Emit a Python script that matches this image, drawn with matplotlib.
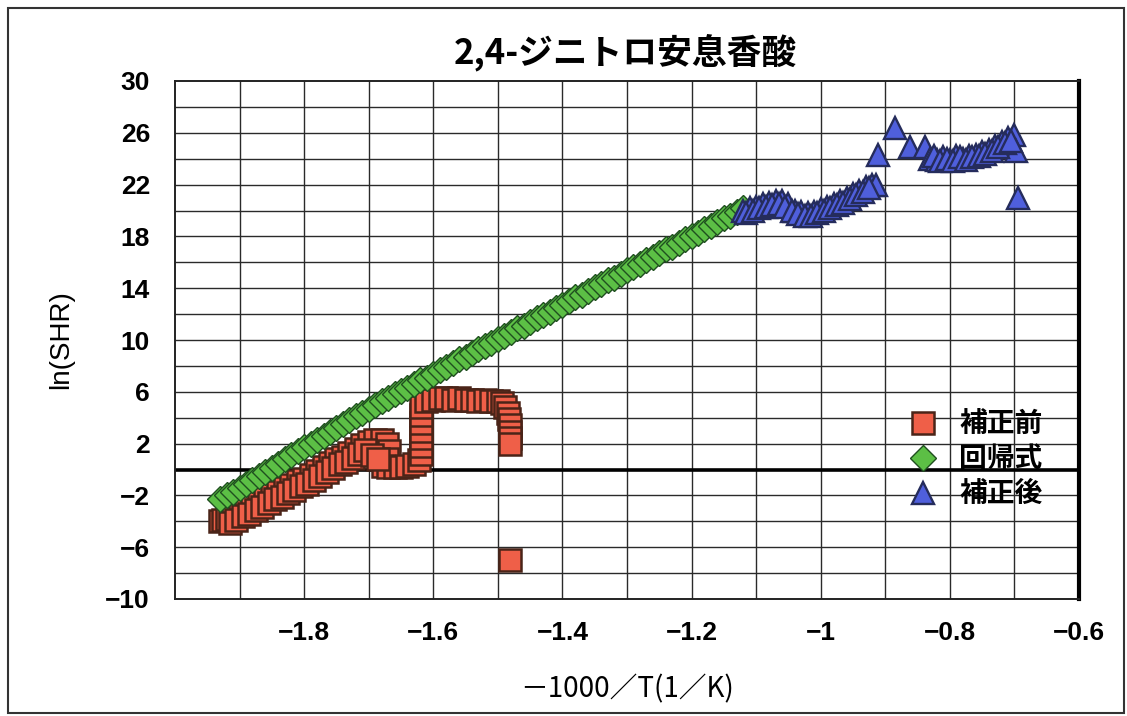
import matplotlib
matplotlib.use("Agg")
import matplotlib.pyplot as plt
from matplotlib.patches import Rectangle

plt.rcParams['font.family'] = ['Liberation Sans', 'Noto Sans CJK JP', 'DejaVu Sans']

# 補正前 (measured, before correction): main track, then the lower edge of the band
before_x = [-1.930, -1.925, -1.920, -1.910, -1.900, -1.890, -1.880, -1.870, -1.860, -1.850,
            -1.840, -1.830, -1.820, -1.810, -1.800, -1.790, -1.780, -1.770, -1.760, -1.750,
            -1.740, -1.730, -1.720, -1.710, -1.700, -1.690, -1.680, -1.672, -1.668, -1.672,
            -1.678, -1.670, -1.660, -1.650, -1.640, -1.630, -1.622, -1.619, -1.619, -1.619,
            -1.619, -1.619, -1.619, -1.619, -1.612, -1.600, -1.590, -1.580, -1.570, -1.560,
            -1.550, -1.540, -1.530, -1.520, -1.510, -1.500, -1.494, -1.489, -1.485, -1.482,
            -1.481, -1.481, -1.481, -1.481, -1.481,
            -1.915, -1.905, -1.895, -1.885, -1.875, -1.865, -1.855, -1.845, -1.835, -1.825,
            -1.815, -1.805, -1.795, -1.785, -1.775, -1.765, -1.755, -1.745, -1.735, -1.725,
            -1.715, -1.705, -1.695, -1.685]
before_y = [-4.0, -3.9, -3.8, -3.5, -3.3, -3.0, -2.7, -2.5, -2.2, -1.9,
            -1.7, -1.4, -1.2, -0.9, -0.7, -0.4, -0.1, 0.2, 0.5, 0.8,
            1.0, 1.3, 1.6, 1.9, 2.1, 2.3, 2.3, 2.0, 1.4, 0.8,
            0.3, 0.2, 0.2, 0.2, 0.3, 0.4, 0.7, 1.2, 1.8, 2.4,
            3.0, 3.6, 4.2, 4.8, 5.3, 5.4, 5.5, 5.5, 5.4, 5.5,
            5.4, 5.4, 5.3, 5.4, 5.3, 5.3, 5.1, 4.8, 4.4, 3.9,
            3.4, 2.9, 2.4, 2.0, -7.0,
            -4.1, -3.9, -3.6, -3.4, -3.1, -2.9, -2.6, -2.3, -2.1, -1.8,
            -1.6, -1.3, -1.1, -0.8, -0.5, -0.2, 0.1, 0.4, 0.6, 0.9,
            1.2, 1.5, 1.1, 0.8]

# 回帰式 (regression)
fit_x = [-1.93, -1.92, -1.91, -1.90, -1.89, -1.88, -1.87, -1.86, -1.85, -1.84,
         -1.83, -1.82, -1.81, -1.80, -1.79, -1.78, -1.77, -1.76, -1.75, -1.74,
         -1.73, -1.72, -1.71, -1.70, -1.69, -1.68, -1.67, -1.66, -1.65, -1.64,
         -1.63, -1.62, -1.61, -1.60, -1.59, -1.58, -1.57, -1.56, -1.55, -1.54,
         -1.53, -1.52, -1.51, -1.50, -1.49, -1.48, -1.47, -1.46, -1.45, -1.44,
         -1.43, -1.42, -1.41, -1.40, -1.39, -1.38, -1.37, -1.36, -1.35, -1.34,
         -1.33, -1.32, -1.31, -1.30, -1.29, -1.28, -1.27, -1.26, -1.25, -1.24,
         -1.23, -1.22, -1.21, -1.20, -1.19, -1.18, -1.17, -1.16, -1.15, -1.14,
         -1.13, -1.12]
fit_y = [-2.3, -2.0, -1.7, -1.4, -1.1, -0.8, -0.5, -0.2, 0.1, 0.4,
         0.8, 1.1, 1.4, 1.7, 2.0, 2.3, 2.6, 2.9, 3.2, 3.5,
         3.8, 4.1, 4.4, 4.7, 5.0, 5.3, 5.5, 5.8, 6.1, 6.3,
         6.6, 6.9, 7.1, 7.4, 7.7, 7.9, 8.2, 8.5, 8.7, 9.0,
         9.3, 9.5, 9.8, 10.1, 10.3, 10.6, 10.9, 11.1, 11.4, 11.7,
         11.9, 12.2, 12.5, 12.7, 13.0, 13.3, 13.5, 13.8, 14.1, 14.3,
         14.6, 14.8, 15.1, 15.4, 15.6, 15.9, 16.2, 16.4, 16.7, 17.0,
         17.2, 17.5, 17.8, 18.0, 18.3, 18.6, 18.8, 19.1, 19.4, 19.6,
         19.9, 20.2]

# 補正後 (after correction)
after_x = [-1.12, -1.11, -1.10, -1.09, -1.08, -1.07, -1.06, -1.05, -1.04, -1.03,
           -1.02, -1.01, -1.00, -0.99, -0.98, -0.97, -0.96, -0.95, -0.94, -0.93,
           -0.92, -0.915, -0.912, -0.885, -0.862, -0.839, -0.83, -0.82, -0.81, -0.80,
           -0.79, -0.78, -0.77, -0.76, -0.75, -0.74, -0.73, -0.72, -0.71, -0.70,
           -0.697, -0.695,
           -1.115, -1.105, -1.095, -1.085, -1.075, -1.065, -1.055, -1.045, -1.035, -1.025,
           -1.015, -1.005, -0.995, -0.985, -0.975, -0.965, -0.955, -0.945, -0.935, -0.925,
           -0.825, -0.815, -0.805, -0.795, -0.785, -0.775, -0.765, -0.755, -0.745, -0.735,
           -0.725, -0.715, -0.705]
after_y = [20.0, 20.2, 20.3, 20.5, 20.6, 20.7, 20.7, 20.5, 20.0, 19.9,
           19.8, 19.9, 20.1, 20.3, 20.5, 20.7, 21.0, 21.3, 21.5, 21.8,
           22.0, 22.0, 24.3, 26.4, 24.9, 24.9, 24.0, 23.9, 24.1, 23.9,
           24.2, 24.0, 24.2, 24.3, 24.5, 24.7, 25.0, 25.3, 25.6, 25.8,
           24.6, 21.0,
           19.8, 20.0, 20.2, 20.3, 20.4, 20.5, 20.3, 20.0, 19.7, 19.6,
           19.6, 19.8, 20.0, 20.2, 20.4, 20.6, 20.9, 21.2, 21.4, 21.7,
           24.2, 23.8, 24.0, 23.8, 24.1, 23.9, 24.1, 24.2, 24.4, 24.6,
           24.9, 25.2, 25.4]

x_ticks = [-1.8, -1.6, -1.4, -1.2, -1.0, -0.8, -0.6]
x_tick_labels = ['−1.8', '−1.6', '−1.4', '−1.2', '−1', '−0.8', '−0.6']
y_ticks = [30, 26, 22, 18, 14, 10, 6, 2, -2, -6, -10]

W, H = 1127, 716
fig = plt.figure(figsize=(W / 100, H / 100), dpi=100)
ax = fig.add_axes([175 / W, 1 - 599 / H, 904 / W, 518 / H])

ax.plot(before_x, before_y, ls='none', marker='s', ms=16, mfc='#ef5f48',
        mec='#4a2418', mew=1.8, label='補正前', zorder=3)
ax.plot(fit_x, fit_y, ls='none', marker='D', ms=13, mfc='#5cbf45',
        mec='#1f4f1f', mew=1.0, label='回帰式', zorder=4)
ax.plot(after_x, after_y, ls='none', marker='^', ms=16, mfc='#4f5fdc',
        mec='#252c5c', mew=1.7, label='補正後', zorder=5)

ax.set_xlim(-2.0, -0.6)
ax.set_ylim(-10, 30)

# grid every 0.1 in x and 2 in y
for gx in [-1.9, -1.8, -1.7, -1.6, -1.5, -1.4, -1.3, -1.2, -1.1, -1.0, -0.9, -0.8, -0.7]:
    ax.axvline(gx, color='#2a2a2a', lw=1.0, zorder=1)
for gy in range(-8, 30, 2):
    if gy != 0:
        ax.axhline(gy, color='#2a2a2a', lw=1.0, zorder=1)
ax.axhline(0, color='black', lw=2.6, zorder=2)

ax.set_xticks(x_ticks)
ax.set_xticklabels(x_tick_labels)
ax.set_yticks(y_ticks)
ax.tick_params(length=0, labelsize=19)
for lab in ax.get_xticklabels() + ax.get_yticklabels():
    lab.set_fontweight('bold')
ax.tick_params(axis='y', pad=18)
ax.tick_params(axis='x', pad=16)

for side in ['left', 'bottom', 'top']:
    ax.spines[side].set_color('#222222')
    ax.spines[side].set_linewidth(1.4)
ax.spines['right'].set_color('black')
ax.spines['right'].set_linewidth(3)

ax.set_ylabel('ln(SHR)', fontsize=20)
ax.yaxis.set_label_coords(-0.112, 0.5)
ax.set_xlabel('－1000／T(1／K)', fontsize=20, family=['Noto Sans CJK JP'])
ax.xaxis.set_label_coords(0.5, -0.145)

fig.text(625 / W, 1 - 52 / H, '2,4-ジニトロ安息香酸', ha='center', va='center',
         fontsize=25, fontweight='bold', family=['Noto Sans CJK JP'])

leg = ax.legend(loc='upper left', bbox_to_anchor=(0.797, 0.391), frameon=False,
                borderpad=0, handlelength=1.0, handletextpad=0.8, labelspacing=0.25,
                prop={'family': 'Noto Sans CJK JP', 'size': 20, 'weight': 'bold'})

fig.patches.append(Rectangle((8 / W, 3 / H), 1116 / W, 705 / H, transform=fig.transFigure,
                             fill=False, edgecolor='#333333', lw=1.5))

fig.savefig('out.png', dpi=100)
